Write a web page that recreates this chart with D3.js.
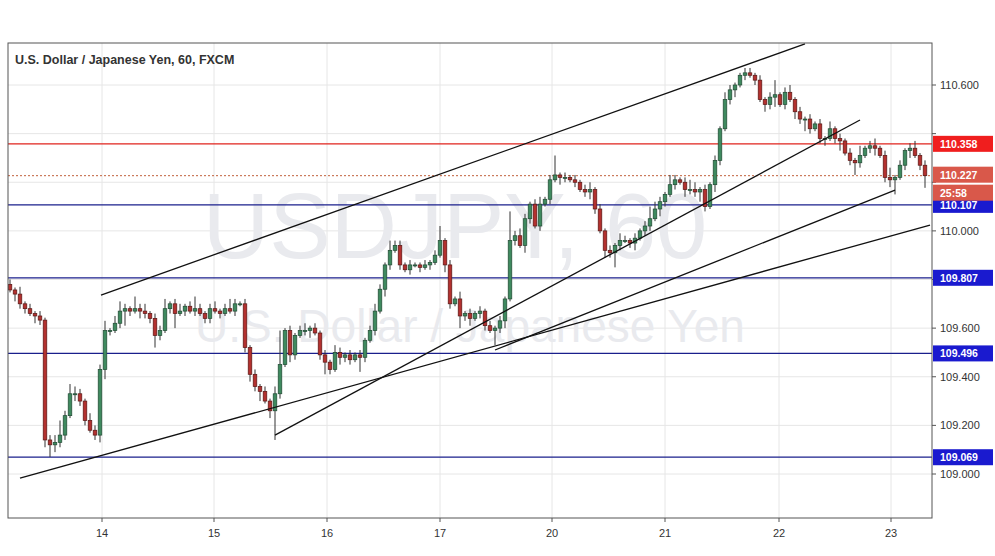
<!DOCTYPE html><html><head><meta charset="utf-8"><script src="https://cdn.jsdelivr.net/npm/d3@7"></script>
<style>body{margin:0;background:#fff}svg{font-family:"Liberation Sans",Arial,sans-serif}</style></head><body><svg id="c" width="995" height="556"></svg>
<script>
const closes=[109.757,109.74,109.70,109.68,109.66,109.65,109.633,109.14,109.12,109.13,109.16,109.24,109.33,109.33,109.30,109.22,109.18,109.16,109.43,109.59,109.59,109.62,109.67,109.68,109.67,109.68,109.67,109.66,109.64,109.57,109.59,109.68,109.70,109.66,109.67,109.69,109.67,109.68,109.66,109.64,109.68,109.67,109.66,109.68,109.67,109.70,109.70,109.52,109.41,109.36,109.34,109.30,109.26,109.33,109.45,109.59,109.49,109.57,109.59,109.59,109.60,109.58,109.49,109.46,109.43,109.50,109.48,109.49,109.47,109.49,109.48,109.55,109.59,109.67,109.76,109.86,109.92,109.94,109.86,109.84,109.86,109.86,109.85,109.86,109.87,109.90,109.96,109.86,109.70,109.72,109.65,109.66,109.64,109.66,109.67,109.61,109.59,109.60,109.63,109.72,109.96,109.98,109.94,110.05,110.11,110.02,110.11,110.13,110.21,110.23,110.22,110.22,110.21,110.20,110.17,110.16,110.17,110.09,110.00,109.92,109.91,109.94,109.96,109.96,109.95,109.97,110.00,110.02,110.05,110.09,110.12,110.15,110.19,110.21,110.20,110.17,110.17,110.16,110.17,110.10,110.19,110.29,110.42,110.54,110.58,110.60,110.64,110.65,110.64,110.62,110.54,110.52,110.55,110.56,110.52,110.57,110.54,110.49,110.46,110.46,110.42,110.44,110.38,110.38,110.42,110.38,110.37,110.32,110.29,110.28,110.31,110.34,110.35,110.34,110.31,110.22,110.21,110.22,110.27,110.33,110.34,110.31,110.27,110.227];
const firstOpen=109.78;
const upWick=[2,1,3,1,2,1,2,1,2,3,6,2,4,3,2,1,3,2,2,4,1,3,4,2,1,5,2,3,1,2,2,4,1,2,3,1,2,5,2,1,2,3,1,2,4,2,1,2,1,2,1,2,1,3,14,1,2,1,2,3,1,2,1,2,1,3,2,1,2,1,2,1,2,3,2,1,4,2,2,1,2,1,1,2,1,2,6,1,2,1,3,1,2,1,2,1,2,1,2,1,12,2,3,2,1,2,3,1,2,8,1,2,1,2,1,2,3,1,2,1,2,1,3,2,1,2,1,2,5,3,2,1,4,2,1,2,4,3,1,2,1,2,1,3,2,1,1,2,2,1,2,1,2,6,1,2,3,1,2,1,2,1,2,1,3,1,2,1,2,1,4,1,2,3,1,2,4,1,2,1,2,3,1,2];
const loWick=[1,3,2,2,1,3,2,3,5,3,2,2,1,3,2,2,1,2,3,4,2,1,2,6,2,1,3,2,2,5,2,1,2,6,1,2,1,2,1,2,2,1,2,1,1,2,1,2,3,2,4,1,3,12,2,1,3,2,1,2,3,1,2,5,2,1,3,2,2,1,6,2,1,2,1,3,2,1,2,1,2,1,2,1,2,1,1,3,2,1,5,2,3,1,2,2,1,6,2,3,1,2,1,3,2,1,2,1,2,1,3,2,1,2,1,2,3,2,1,3,2,6,2,1,2,3,1,2,2,1,3,2,1,2,1,3,2,2,4,2,1,3,2,1,2,3,1,2,1,2,1,3,2,4,1,2,1,3,2,5,2,1,2,3,1,2,4,1,2,5,2,1,2,3,1,2,3,6,1,2,3,1,2,5];
const dayLabels=["14","15","16","17","20","21","22","23"];
const dayTickIdx=[18.4,40.8,63.4,86,108.4,131,153.8,176.2];
const priceTicks=[109.0,109.2,109.4,109.6,109.8,110.0,110.2,110.4,110.6];
const levels=[{p:110.358,c:"#e0231c"},{p:110.107,c:"#1a1f8c"},{p:109.807,c:"#1a1f8c"},{p:109.496,c:"#1a1f8c"},{p:109.069,c:"#1a1f8c"}];
const lastPrice=110.227, countdown="25:58";
const trendLines=[[[18.2,109.736],[159,110.769]],[[2,108.983],[184,110.024]],[[53,109.160],[170,110.456]],[[97,109.510],[177,110.168]]];

const svg=d3.select("#c");
const L=8,R=932,T=43,B=518;
const x=d3.scaleLinear().domain([0,183]).range([10,925]);
const y=d3.scaleLinear().domain([109.0,110.6]).range([474,85]);
svg.append("rect").attr("width",995).attr("height",556).attr("fill","#fff");
svg.append("clipPath").attr("id","pc").append("rect").attr("x",L).attr("y",T).attr("width",R-L).attr("height",B-T);
const g=svg.append("g").attr("clip-path","url(#pc)");
priceTicks.forEach(p=>g.append("line").attr("x1",L).attr("x2",R).attr("y1",y(p)).attr("y2",y(p)).attr("stroke","#e6e6e6"));
dayTickIdx.forEach(i=>g.append("line").attr("x1",x(i)).attr("x2",x(i)).attr("y1",T).attr("y2",B).attr("stroke","#e6e6e6"));
g.append("text").attr("x",455).attr("y",258).attr("text-anchor","middle").attr("font-size",92).attr("fill","#e9eaee").text("USDJPY, 60");
g.append("text").attr("x",470).attr("y",342).attr("text-anchor","middle").attr("font-size",46).attr("fill","#e9eaee").text("U.S. Dollar / Japanese Yen");
levels.forEach(l=>g.append("line").attr("x1",L).attr("x2",R).attr("y1",y(l.p)).attr("y2",y(l.p)).attr("stroke",l.c).attr("stroke-width",1.2));
g.append("line").attr("x1",L).attr("x2",R).attr("y1",y(lastPrice)).attr("y2",y(lastPrice)).attr("stroke","#c0603a").attr("stroke-dasharray","2,2");
closes.forEach((c,i)=>{
  const o=i?closes[i-1]:firstOpen, up=c>=o;
  const hi=Math.max(o,c)+upWick[i]/100, lo=Math.min(o,c)-loWick[i]/100;
  const col=up?"#3f8a5f":"#b3312f", sc=up?"#1f4a32":"#5a1513";
  g.append("line").attr("x1",x(i)).attr("x2",x(i)).attr("y1",y(hi)).attr("y2",y(lo)).attr("stroke","#333");
  const y0=y(Math.max(o,c)),h=Math.max(1,y(Math.min(o,c))-y0);
  g.append("rect").attr("x",x(i)-1.8).attr("y",y0).attr("width",3.6).attr("height",h).attr("fill",col).attr("stroke",sc).attr("stroke-width",0.7);
});
trendLines.forEach(t=>g.append("line").attr("x1",x(t[0][0])).attr("y1",y(t[0][1])).attr("x2",x(t[1][0])).attr("y2",y(t[1][1])).attr("stroke","#111").attr("stroke-width",1.3));
svg.append("rect").attr("x",L).attr("y",T).attr("width",R-L).attr("height",B-T).attr("fill","none").attr("stroke","#555");
svg.append("text").attr("x",15).attr("y",64).attr("font-size",12.5).attr("font-weight","bold").attr("fill","#333").text("U.S. Dollar / Japanese Yen, 60, FXCM");
const boxYs=levels.map(l=>y(l.p)).concat([y(lastPrice)-1,y(lastPrice)+17]);
priceTicks.forEach(p=>{svg.append("line").attr("x1",R).attr("x2",R+4).attr("y1",y(p)).attr("y2",y(p)).attr("stroke","#555");
 if(boxYs.some(b=>Math.abs(b-y(p))<13)) return;
 svg.append("text").attr("x",940).attr("y",y(p)+4).attr("font-size",11).attr("fill","#333").text(p.toFixed(3));});
dayTickIdx.forEach((i,k)=>{svg.append("line").attr("x1",x(i)).attr("x2",x(i)).attr("y1",B).attr("y2",B+4).attr("stroke","#555");
 svg.append("text").attr("x",x(i)).attr("y",537).attr("text-anchor","middle").attr("font-size",11).attr("fill","#333").text(dayLabels[k]);});
function box(p,fill,txt,dy){const yy=y(p)+(dy||0);svg.append("rect").attr("x",R+1).attr("y",yy-8).attr("width",60).attr("height",16).attr("fill",fill);
 svg.append("text").attr("x",940).attr("y",yy+4).attr("font-size",10.5).attr("font-weight","bold").attr("fill","#fff").text(txt);}
levels.forEach(l=>box(l.p,l.c==="#e0231c"?"#f01e1e":"#1a1acf",l.p.toFixed(3)));
box(lastPrice,"#d9584a",lastPrice.toFixed(3),-1);
box(lastPrice,"#d9584a",countdown,17);
</script></body></html>
